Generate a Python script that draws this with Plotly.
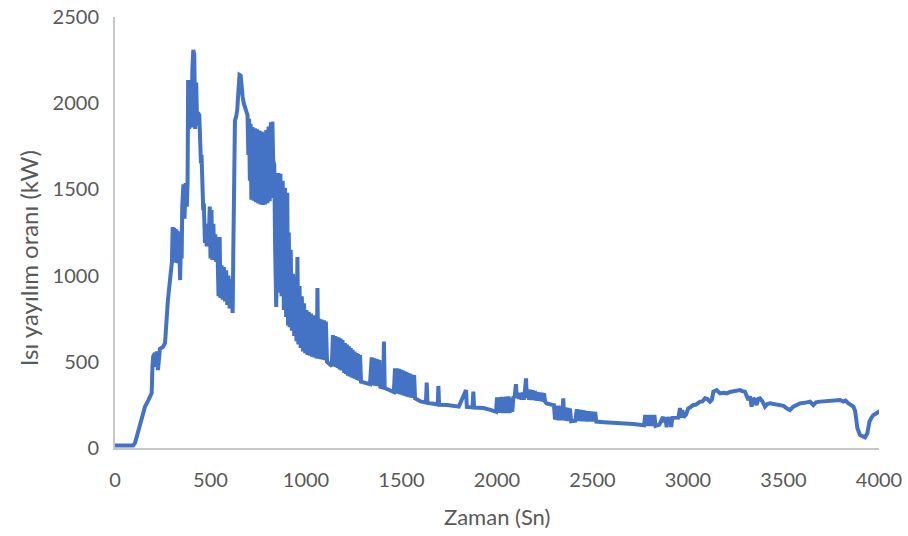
import plotly.graph_objects as go

# ---- data (time in s, heat release rate in kW) ----
rise_t = [0, 95, 105, 122, 140, 157, 175, 183, 192, 196, 200, 209, 214, 219, 225, 235, 251, 262, 267, 277, 288, 298]
rise_q = [15, 15, 30, 104, 162, 240, 278, 296, 319, 472, 530, 551, 470, 560, 452, 575, 586, 609, 725, 858, 974, 1079]

peak1_t = [302, 306, 310, 314, 318, 322, 326, 330, 334, 338, 341, 346, 349, 352, 358, 364, 370, 376, 380,
           383, 389, 395, 400, 405, 410, 415, 420, 425, 430, 435, 438, 441, 444, 447, 450, 453, 456, 459,
           462, 465, 468, 471, 476,
           480, 486, 490, 496, 500, 505, 510, 515, 520, 525, 530, 535, 538, 542, 548, 552, 558, 564, 570,
           576, 582, 588, 594, 600, 606, 612]
peak1_q = [1282, 1080, 1278, 1075, 1270, 1078, 1262, 1072, 1255, 1070, 974, 1250, 1100, 1398, 1530, 1330,
           1537, 1400, 1540, 2134, 1850, 2130, 1860, 2200, 2309, 2280, 1850, 2120, 1870, 1950, 1900, 1940,
           1800, 1850, 1650, 1700, 1500, 1560, 1380, 1420, 1250, 1190, 1250,
           1170, 1300, 1170, 1400, 1100, 1380, 1090, 1300, 1100, 1240,
           1080, 1224, 1070, 880, 1224, 870, 1060, 860, 1050, 850, 1030, 830, 1000, 810, 980, 790]

peak2_t = [616, 619, 624, 628, 634, 640, 645, 652, 658, 662, 668, 674, 680, 688, 694, 698, 702, 706, 710,
           714, 720, 726, 732, 738, 744, 750, 756, 762, 768, 774, 780, 786, 792, 798, 804, 810, 816, 820,
           824, 828, 834, 838, 844, 850, 855, 860, 866, 872, 878, 884, 890, 896, 902, 906, 910, 914, 920,
           926, 932, 938, 944, 950, 955, 960, 966, 972, 978, 984, 990, 996, 1002, 1008, 1014, 1020, 1026,
           1032, 1038, 1044, 1050, 1056, 1060, 1064, 1070, 1076, 1082, 1088, 1094, 1100, 1104, 1110]
peak2_q = [783, 1100, 1480, 1900, 1920, 1960, 2050, 2164, 2160, 2070, 2040, 2000, 1980, 1950, 1930, 1700,
           1910, 1550, 1880, 1440, 1862, 1435, 1855, 1425, 1848, 1418, 1842, 1412, 1836, 1410, 1830, 1412,
           1845, 1420, 1865, 1432, 1890, 1450, 1893, 1670, 1640, 1190, 818, 1200, 1595, 900, 1590, 880,
           1550, 800, 1510, 760, 1480, 710, 1250, 700, 1150, 680, 1010, 650, 990, 620, 1108, 600, 940, 580,
           880, 560, 840, 550, 800, 540, 790, 535, 780, 530, 770, 525, 765, 520, 928, 518, 750, 515, 745,
           512, 740, 510, 733, 500]

decay_t = [1116, 1126, 1135, 1141, 1146, 1151, 1156, 1161, 1166, 1171, 1176, 1181, 1186, 1191, 1196, 1200,
           1204, 1209, 1214, 1219, 1224, 1229, 1234, 1239, 1244, 1249, 1254, 1259, 1264, 1269, 1274, 1279,
           1283, 1288, 1310, 1335, 1344, 1349, 1354, 1359, 1364, 1369, 1374, 1379, 1384, 1389, 1404, 1408,
           1412, 1440, 1460, 1466, 1471, 1476, 1481, 1486, 1491, 1496, 1501, 1506, 1511, 1516, 1521, 1526,
           1531, 1536, 1541, 1546, 1551, 1556, 1561, 1566, 1571, 1600, 1628, 1632, 1636, 1660, 1690, 1693,
           1697, 1740, 1800, 1838, 1842, 1872, 1876, 1880, 1930, 1970, 1995, 2000, 2006, 2012, 2018, 2024,
           2030, 2036, 2042, 2048, 2054, 2060, 2066, 2074, 2080, 2086, 2092, 2099, 2104, 2110, 2116, 2122,
           2128, 2134, 2140, 2146, 2152, 2156, 2162, 2168, 2174, 2180, 2186, 2192, 2198, 2204, 2210, 2216,
           2222, 2228, 2234, 2240, 2246, 2252, 2260]
decay_q = [495, 481, 475, 655, 475, 650, 470, 645, 465, 640, 455, 635, 450, 626, 440, 435, 609, 430, 600,
           420, 590, 415, 580, 410, 570, 405, 560, 400, 551, 395, 545, 390, 539, 385, 378, 370, 526, 365,
           522, 362, 518, 360, 515, 358, 510, 355, 350, 617, 348, 336, 325, 462, 320, 462, 315, 460, 312,
           455, 310, 450, 305, 445, 302, 440, 298, 435, 295, 430, 292, 425, 290, 423, 288, 270, 264, 379,
           262, 258, 252, 360, 250, 249, 240, 336, 238, 236, 327, 235, 232, 220, 210, 294, 205, 294, 204,
           296, 203, 296, 203, 298, 203, 300, 203, 290, 210, 300, 290, 370, 290, 320, 285, 320, 280, 322,
           280, 330, 404, 290, 340, 280, 338, 278, 335, 278, 330, 276, 325, 274, 322, 272, 320, 270, 318,
           268, 259]

tail_t = [2290, 2298, 2304, 2310, 2316, 2322, 2328, 2334, 2340, 2347, 2352, 2358, 2364, 2370, 2376, 2382,
          2388, 2410, 2418, 2424, 2430, 2436, 2442, 2448, 2454, 2460, 2466, 2472, 2478, 2484, 2490, 2496,
          2502, 2508, 2514, 2520, 2560, 2627, 2714, 2770, 2776, 2782, 2788, 2794, 2800, 2806, 2812, 2818,
          2824, 2830, 2850, 2869, 2876, 2882, 2888, 2894, 2900, 2906, 2912, 2918, 2930, 2950, 2958, 2964,
          2970, 2976, 2990, 3001, 3010, 3028, 3040, 3055, 3063, 3075, 3089, 3100, 3115, 3125, 3133, 3150,
          3160, 3168, 3185, 3203, 3220, 3237, 3255, 3272, 3285, 3298, 3308, 3316, 3325, 3333, 3342, 3350,
          3359, 3368, 3377, 3390, 3403, 3415, 3429, 3455, 3482, 3500, 3516, 3534, 3551, 3570, 3586, 3610,
          3639, 3656, 3670, 3691, 3720, 3743, 3770, 3796, 3813, 3825, 3840, 3866, 3875, 3880, 3887, 3901,
          3915, 3927, 3939, 3950, 3960, 3971, 3985, 3997, 4005]
tail_q = [250, 249, 165, 245, 162, 245, 160, 240, 160, 288, 160, 235, 158, 232, 156, 230, 155, 158, 225,
          157, 222, 156, 220, 155, 218, 155, 215, 154, 213, 154, 212, 153, 210, 153, 209, 153, 150, 147,
          139, 132, 191, 128, 191, 128, 191, 128, 191, 128, 191, 128, 135, 180, 150, 180, 120, 180, 150,
          178, 122, 175, 175, 176, 232, 176, 220, 178, 195, 230, 235, 249, 250, 260, 269, 270, 288, 285,
          269, 280, 327, 336, 320, 317, 320, 317, 325, 327, 330, 336, 330, 327, 300, 278, 300, 240, 288,
          280, 249, 285, 288, 270, 240, 255, 259, 255, 249, 245, 230, 220, 240, 250, 259, 262, 269, 249,
          265, 269, 271, 274, 276, 278, 269, 275, 259, 240, 215, 182, 114, 75, 68, 62, 85, 153, 175, 191,
          200, 211, 215]

x_ticks = [0, 500, 1000, 1500, 2000, 2500, 3000, 3500, 4000]
y_ticks = [0, 500, 1000, 1500, 2000, 2500]
x_title = "Zaman (Sn)"
y_title = "Isı yayılım oranı (kW)"

time_s = rise_t + peak1_t + peak2_t + decay_t + tail_t
heat_kw = rise_q + peak1_q + peak2_q + decay_q + tail_q

FONT = "Lato"
GREY = "#595959"

fig = go.Figure()
fig.add_trace(go.Scatter(
    x=time_s, y=heat_kw, mode="lines",
    line=dict(color="#4472C4", width=4),
    hoverinfo="skip", showlegend=False,
))

fig.update_layout(
    width=908, height=536,
    margin=dict(l=115, r=29, t=17, b=88),
    paper_bgcolor="white", plot_bgcolor="white",
    font=dict(family=FONT, size=20, color=GREY),
    showlegend=False,
    xaxis=dict(
        range=[0, 4000], tickvals=x_ticks, ticktext=[str(v) for v in x_ticks],
        showgrid=False, zeroline=False, showline=True, linecolor="#C8C8C8", linewidth=2,
        ticks="", ticklabelstandoff=13, automargin=False,
        tickfont=dict(family=FONT, size=20, color=GREY),
    ),
    yaxis=dict(
        range=[0, 2500], tickvals=y_ticks, ticktext=[str(v) for v in y_ticks],
        showgrid=False, zeroline=False, showline=True, linecolor="#C8C8C8", linewidth=2,
        ticks="", ticklabelstandoff=10, automargin=False,
        tickfont=dict(family=FONT, size=20, color=GREY),
    ),
    annotations=[
        dict(text=x_title, xref="paper", yref="paper", x=0.5, y=-0.16,
             xanchor="center", yanchor="middle", showarrow=False,
             font=dict(family=FONT, size=22, color=GREY)),
        dict(text=y_title, xref="paper", yref="paper", x=-0.114, y=0.44,
             xanchor="center", yanchor="middle", showarrow=False, textangle=-90,
             font=dict(family=FONT, size=24, color=GREY)),
    ],
)

fig.write_html("out.html")
